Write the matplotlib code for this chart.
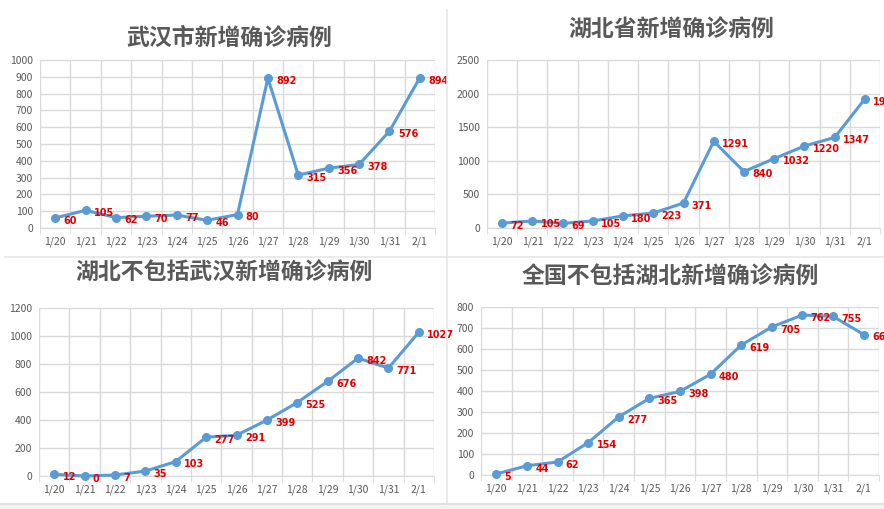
import numpy as np
import matplotlib
matplotlib.use('Agg')
import matplotlib.pyplot as plt
from matplotlib.lines import Line2D
from matplotlib.patches import Rectangle

plt.rcParams['font.family'] = ['Noto Sans CJK SC', 'DejaVu Sans']

dates = ['1/20', '1/21', '1/22', '1/23', '1/24', '1/25', '1/26',
         '1/27', '1/28', '1/29', '1/30', '1/31', '2/1']

wuhan = [60, 105, 62, 70, 77, 46, 80, 892, 315, 356, 378, 576, 894]
hubei = [72, 105, 69, 105, 180, 223, 371, 1291, 840, 1032, 1220, 1347, 1921]
hubei_ex_wuhan = [12, 0, 7, 35, 103, 277, 291, 399, 525, 676, 842, 771, 1027]
china_ex_hubei = [5, 44, 62, 154, 277, 365, 398, 480, 619, 705, 762, 755, 669]

titles = ['武汉市新增确诊病例', '湖北省新增确诊病例',
          '湖北不包括武汉新增确诊病例', '全国不包括湖北新增确诊病例']
series = [wuhan, hubei, hubei_ex_wuhan, china_ex_hubei]
ymax = [1000, 2500, 1200, 800]
ystep = [100, 500, 200, 100]

W, H = 884, 509
# pixel boxes: left, top, right, bottom
boxes = [(40, 60, 435, 228), (487, 60, 880, 228),
         (39, 308, 434, 476), (481, 307, 879, 475)]
title_y = [38, 30, 273, 277]
title_x = [229, 671, 224, 670]

fig = plt.figure(figsize=(W / 100, H / 100), dpi=100)

line_col = '#5b9bd5'
grid_col = '#d9d9d9'
label_col = '#e00000'
text_col = '#595959'

x = np.arange(len(dates))
for i in range(4):
    l, t, r, b = boxes[i]
    ax = fig.add_axes([l / W, 1 - b / H, (r - l) / W, (b - t) / H])
    ax.plot(x, series[i], color=line_col, lw=2.2, marker='o', ms=5.5,
            clip_on=False, zorder=3)
    # data labels right of each point (the last one runs off the edge, as in the original)
    for xi, v in zip(x, series[i]):
        ax.annotate(str(v), (xi, v), xytext=(6, -2), textcoords='offset points',
                    ha='left', va='center', color=label_col, fontsize=7,
                    fontweight='bold', family='DejaVu Sans',
                    annotation_clip=False, zorder=4)
    ax.set_xlim(-0.5, len(dates) - 0.5)
    ax.set_ylim(0, ymax[i])
    ax.set_yticks(np.arange(0, ymax[i] + 1, ystep[i]))
    ax.set_xticks(x)
    ax.set_xticklabels(dates)
    ax.set_xticks(np.arange(-0.5, len(dates)), minor=True)
    ax.grid(True, axis='y', color=grid_col, lw=1)
    ax.grid(True, axis='x', which='minor', color=grid_col, lw=1)
    ax.tick_params(axis='x', which='major', length=0, pad=6,
                   labelsize=7.5, labelcolor=text_col)
    ax.tick_params(axis='x', which='minor', length=4, color=grid_col)
    ax.tick_params(axis='y', length=0, pad=5, labelsize=7.5, labelcolor=text_col)
    for s in ['top', 'right', 'left']:
        ax.spines[s].set_visible(False)
    ax.spines['bottom'].set_color(grid_col)
    ax.set_axisbelow(True)
    fig.text(title_x[i] / W, 1 - title_y[i] / H, titles[i], ha='center',
             va='center', fontsize=16.5, color=text_col, fontweight='bold')

# panel dividers
fig.add_artist(Line2D([446.5 / W, 446.5 / W], [1 - 10 / H, 1 - 504 / H],
                      color='#e6e6e6', lw=1.2))
fig.add_artist(Line2D([5 / W, 1], [1 - 257 / H, 1 - 257 / H],
                      color='#e6e6e6', lw=1.2))
fig.add_artist(Line2D([0, 1], [1 - 504 / H, 1 - 504 / H],
                      color='#dcdcdc', lw=1.2))
fig.add_artist(Rectangle((0, 0), 1, 4.5 / H, transform=fig.transFigure,
                         color='#f2f2f2', lw=0))

fig.savefig('out.png', dpi=100)
